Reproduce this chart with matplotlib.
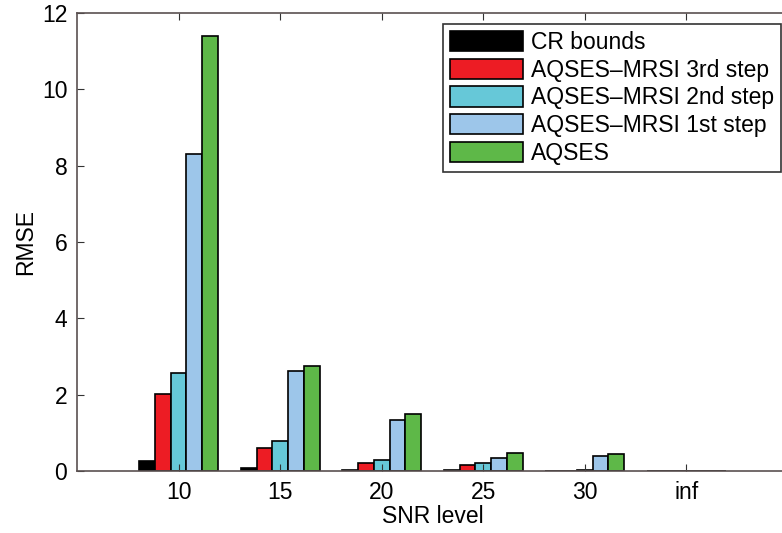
import matplotlib
matplotlib.use("Agg")
import matplotlib.pyplot as plt
import numpy as np

plt.rcParams['font.family'] = ['Liberation Sans', 'DejaVu Sans']

snr_labels = ['10', '15', '20', '25', '30', 'inf']
series_names = ['CR bounds', 'AQSES\u2013MRSI 3rd step', 'AQSES\u2013MRSI 2nd step',
                'AQSES\u2013MRSI 1st step', 'AQSES']
cr_bounds = [0.25, 0.08, 0.03, 0.02, 0.01, 0.0]
step3 = [2.03, 0.60, 0.22, 0.15, 0.01, 0.0]
step2 = [2.58, 0.78, 0.28, 0.20, 0.02, 0.0]
step1 = [8.30, 2.62, 1.33, 0.35, 0.38, 0.0]
aqses = [11.40, 2.75, 1.50, 0.48, 0.45, 0.0]
colors = ['#000000', '#ED1C24', '#66C8D8', '#9DC6EA', '#5EB848']

values = [cr_bounds, step3, step2, step1, aqses]

fig = plt.figure(figsize=(7.82, 5.33), dpi=100)
ax = fig.add_axes([77/782, 1-471/533, 711/782, 458/533])

x = np.arange(1, len(snr_labels)+1)
w = 0.155
for i, (vals, c, name) in enumerate(zip(values, colors, series_names)):
    ax.bar(x + (i-2)*w, vals, width=w, color=c, edgecolor='black', linewidth=1.2, label=name)

fs = 16.5
ax.set_xlim(0, 7)
ax.set_ylim(0, 12)
ax.set_xticks(x)
ax.set_xticklabels(snr_labels)
ax.set_yticks(np.arange(0, 13, 2))
ax.tick_params(direction='in', length=5, labelsize=fs, top=True, right=False, pad=7, color='#333333')
for s in ax.spines.values():
    s.set_color('#5a5050')
    s.set_linewidth(1.2)
ax.set_xlabel('SNR level', fontsize=fs, labelpad=1)
ax.set_ylabel('RMSE', fontsize=fs, labelpad=3)

leg = ax.legend(loc='upper right', bbox_to_anchor=(781/782, 1-24/533), bbox_transform=fig.transFigure,
                borderaxespad=0, fontsize=fs, fancybox=False, framealpha=1, edgecolor='#333333',
                handlelength=3.2, handleheight=1.0, labelspacing=0.2, handletextpad=0.35,
                borderpad=0.3)
leg.get_frame().set_linewidth(1.2)

fig.savefig('out.png', dpi=100)
